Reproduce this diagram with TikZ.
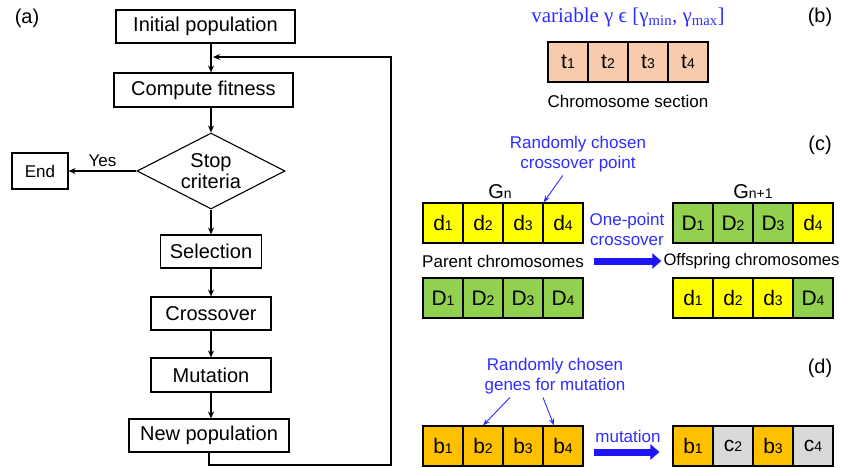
\documentclass[tikz,border=0pt]{standalone}
\usepackage{fontspec}
\setmainfont{Liberation Sans}
\newfontfamily\timesfont{Liberation Serif}
\usetikzlibrary{shapes.geometric,arrows.meta}
\definecolor{geneyel}{RGB}{255,255,0}
\definecolor{genegrn}{RGB}{146,208,80}
\definecolor{geneorg}{RGB}{255,192,0}
\definecolor{genegry}{RGB}{217,217,217}
\definecolor{genepch}{RGB}{248,203,173}
\definecolor{noteblue}{RGB}{45,45,255}
\definecolor{arrowblue}{RGB}{30,20,250}
\newcommand{\dg}[1]{{\fontsize{14}{14}\selectfont #1}}
\begin{document}
\begin{tikzpicture}[x=1pt,y=-1pt,
    box/.style={draw,line width=1.1pt,inner sep=0pt,font=\fontsize{20}{21}\selectfont},
    gene/.style={draw,line width=1.1pt,minimum width=40pt,minimum height=40pt,inner sep=0pt,font=\fontsize{21}{21}\selectfont},
    note/.style={text=noteblue,font=\fontsize{17}{20}\selectfont,align=center},
    lbl/.style={font=\fontsize{17}{20}\selectfont},
    flow/.style={-{Stealth[length=7pt,width=6pt]},line width=1.1pt},
    ptr/.style={-{Stealth[length=7pt,width=5pt]},line width=0.9pt,draw=noteblue},
    fat/.style={-{Triangle[length=9pt,width=15pt]},line width=7pt,draw=arrowblue}]
    \useasboundingbox (0,0) rectangle (841,467);
    % (a) flowchart
    \node[font=\fontsize{20}{20}\selectfont] (la) at (27,18) {(a)};
    \node[box,minimum width=179pt,minimum height=33pt] (init) at (205.5,26.5) {Initial population};
    \node[box,minimum width=179pt,minimum height=34pt] (fit) at (203.5,90) {Compute fitness};
    \node[box,diamond,aspect=2,minimum width=148pt,minimum height=76pt,align=center] (stop) at (211,171) {Stop\\criteria};
    \node[box,minimum width=56pt,minimum height=36pt,font=\fontsize{17}{17}\selectfont] (endn) at (40,171) {End};
    \node[box,minimum width=101pt,minimum height=33pt] (sel) at (211,251.5) {Selection};
    \node[box,minimum width=120pt,minimum height=33pt] (cross) at (211,313.5) {Crossover};
    \node[box,minimum width=120pt,minimum height=34pt] (mut) at (211,375) {Mutation};
    \node[box,minimum width=160pt,minimum height=33pt] (newp) at (209,435.5) {New population};
    \draw[flow] (init.south -| stop) -- (fit.north -| stop);
    \draw[flow] (fit.south -| stop) -- (stop.north);
    \draw[flow] (stop.west) -- (endn.east) node[midway,above,lbl] {Yes};
    \draw[flow] (stop.south) -- (sel.north);
    \draw[flow] (sel.south) -- (cross.north);
    \draw[flow] (cross.south) -- (mut.north);
    \draw[flow] (mut.south) -- (newp.north -| mut);
    \coordinate (loopbr) at (391,465);
    \coordinate (loopin) at (213,57);
    \draw[flow] (newp.south) |- (loopbr) |- (loopin);
    % (b) chromosome section
    \node[font=\fontsize{20}{20}\selectfont] (lb) at (820,17) {(b)};
    \node[font=\timesfont\fontsize{21}{24}\selectfont,text=noteblue] (var) at (628,17) {variable γ ϵ [γ\textsubscript{min}, γ\textsubscript{max}]};
    \foreach \i in {1,...,4} \node[gene,fill=genepch] (ch-\i) at (528+40*\i,62) {t\dg{\i}};
    \node[lbl] (chs) at (628,101) {Chromosome section};
    % (c) crossover
    \node[font=\fontsize{20}{20}\selectfont] (lc) at (820,145) {(c)};
    \node[note] (rcp) at (578,154) {Randomly chosen\\crossover point};
    \node[font=\fontsize{20}{20}\selectfont] (gn) at (500,192) {G\dg{n}};
    \node[font=\fontsize{20}{20}\selectfont] (gn1) at (753,192) {G\dg{n+1}};
    \foreach \i in {1,...,4} \node[gene,fill=geneyel] (pa-\i) at (403+40*\i,223) {d\dg{\i}};
    \foreach \i in {1,...,4} \node[gene,fill=genegrn] (pb-\i) at (403+40*\i,298) {D\dg{\i}};
    \foreach \l/\c [count=\i] in {D/genegrn,D/genegrn,D/genegrn,d/geneyel}
        \node[gene,fill=\c] (oa-\i) at (653+40*\i,223) {\l\dg{\i}};
    \foreach \l/\c [count=\i] in {d/geneyel,d/geneyel,d/geneyel,D/genegrn}
        \node[gene,fill=\c] (ob-\i) at (653+40*\i,298) {\l\dg{\i}};
    \draw[ptr] (rcp) -- (pa-3.north east);
    \node[note] (opc) at (627,229) {One-point\\crossover};
    \node[lbl] (par) at (503,261) {Parent chromosomes};
    \node[font=\fontsize{16.6}{20}\selectfont,inner sep=1pt] (offs) at (751.5,261) {Offspring chromosomes};
    \draw[fat,shorten <=7pt,shorten >=1pt] (par.east) -- (offs.west);
    % (d) mutation
    \node[font=\fontsize{20}{20}\selectfont] (ld) at (820,368) {(d)};
    \node[note] (rgm) at (555,376) {Randomly chosen\\genes for mutation};
    \foreach \i in {1,...,4} \node[gene,fill=geneorg] (ma-\i) at (403+40*\i,446) {b\dg{\i}};
    \foreach \l/\c [count=\i] in {b/geneorg,c/genegry,b/geneorg,c/genegry}
        \node[gene,fill=\c] (mb-\i) at (653+40*\i,446) {\l\dg{\i}};
    \draw[ptr] ([xshift=-45pt]rgm.south) -- (ma-2.north);
    \draw[ptr] ([xshift=-12pt]rgm.south) -- ([xshift=-9pt]ma-4.north);
    \node[note] (mtxt) at (628,436) {mutation};
    \draw[fat] ([xshift=10pt,yshift=-6pt]ma-4.east) -- ([xshift=-13pt,yshift=-6pt]mb-1.west);
\end{tikzpicture}
\end{document}
